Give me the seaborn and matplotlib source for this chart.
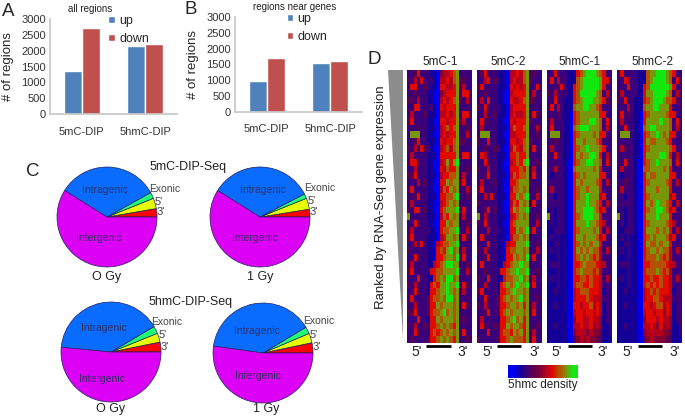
import matplotlib
matplotlib.use('Agg')
import matplotlib.pyplot as plt
import seaborn as sns
import pandas as pd
import numpy as np
from matplotlib.colors import LinearSegmentedColormap
from matplotlib.lines import Line2D
from matplotlib.patches import Polygon

W, H = 685, 417

groups = ['5mC-DIP', '5hmC-DIP']
directions = ['up', 'down']
all_regions_up = [1350, 2150]
all_regions_down = [2730, 2220]
near_genes_up = [990, 1550]
near_genes_down = [1720, 1600]

pie_labels = ["3'", "5'", 'Exonic', 'Intragenic', 'Intergenic']
pie_colors = ['#ff0000', '#e6ff00', '#1eff78', '#0a6cff', '#dc00f5']
pie_5mc_0gy = [2.7, 3.4, 2.0, 33.0, 58.9]
pie_5mc_1gy = [2.5, 3.6, 1.5, 33.5, 58.9]
pie_5hmc_0gy = [3.2, 2.9, 2.4, 40.0, 51.5]
pie_5hmc_1gy = [3.3, 3.1, 2.2, 39.2, 52.2]

# digits 0-9 read by eye: 0 blue, 2 purple, 4 maroon, 6 red, 8 olive, 9 green
mc1 = [
    '22362221104556782222', '32526222105565783322', '26622321106655683522', '22322211004566682662',
    '33252211005656783252', '22662222106566682222', '25222311105565682662', '36222211006656683522',
    '22232211105676782232', '28882211005656682252', '22362211106566783322', '32526321005675782222',
    '25222211106666682662', '26632211005686892222', '22522211006576682232', '33622211105667782522',
    '22252311006687883622', '26222211005768782252', '22362211106677892232', '25222211005678782222',
    '32662311006788892622', '82222211105768782522', '22632211006687882232', '25222221106778892252',
    '36222211105688782632', '22526211056778892222', '32222211067689782522', '22632211066788792622',
    '25222211567899882232', '36222216677888892252', '22262211678799782222', '32522216768898892632',
    '22632216678898782522', '26222236778799782222', '22522236687888782632', '33622236778978782222',
    '22262216687888782322', '32522326678787682222', '22632226767878782622', '23222236678787682232',
]
mc2 = [
    '23622211105565782322', '22562321105655783222', '36222211106565682262', '22322211005666682522',
    '25262211006556783322', '32622221105666682222', '22522311105655682632', '26322211006566683222',
    '25222211105766782252', '28882211005566682232', '32262211106656783222', '22322321005765782622',
    '26522211106676682222', '22632211005676892232', '32252211006667682522', '22362211105767782622',
    '25222311006678883222', '36222211005778782232', '22526211106687892252', '32222211005768782622',
    '22362311006878892222', '82522211105678782232', '32622211006788882252', '22252221106687892622',
    '26322211105778782222', '22262211056688892232', '32522211067788782252', '22362211066878792622',
    '26222211567889882222', '22322216678898892232', '32262211677889782522', '22522216787898892622',
    '36222216678988782222', '22622236787889782232', '32522236678878682522', '22362236787888782622',
    '25222216678978682222', '26322326687887682232', '22262226776878682522', '32222236678777682622',
]
hmc1 = [
    '22622211167899987622', '26252211178999998662', '22236211678999998622', '32522211679999987252',
    '22622111678999887632', '26252111788998876222', '22232110678888886622', '25222110678889987262',
    '26222110789998887252', '28882110678888786622', '22322110688788876222', '25222110678898887622',
    '22622110687889986252', '22222100678899887262', '22522100788888786222', '21222100678788886622',
    '22222100687888876252', '25222100678878886222', '22122100678898885622', '22222100688898876252',
    '12122100688999875622', '82122100678999886222', '12122100688898876522', '11222100678888786252',
    '12121100688788875622', '11221100678787886222', '12121100687878775252', '11121100678787675222',
    '12221100667877765522', '11121100678777675222', '12121100667767665252', '11121100677667665222',
    '11211100567776665122', '11111100566676555222', '11211100665667565122', '11111100566566565122',
    '11111100466556554122', '11211100556556454112', '11111100455545443112', '11111100345454433111',
]
hmc2 = [
    '26222211178899987622', '22652211178999987262', '22262211679999998622', '25222211688999987252',
    '32622111678999877632', '22252111788998886222', '26232110678888876622', '25222110688889887262',
    '22622110789988887252', '28882110678898786622', '22222110687788876222', '25322110678888887622',
    '22222110688889986252', '22622100678898887262', '25222100778888786222', '21222100687788886622',
    '22322100678888876252', '25222100688878886222', '22122100678888885622', '22222100687898876252',
    '12122100678899875622', '82122100688898886222', '12122100678888876522', '11222100688878786252',
    '12121100678788875622', '11221100687787886222', '12121100678878775252', '11121100677787675222',
    '12221100667777765522', '11121100677787675222', '12121100667667665252', '11121100676767665222',
    '11211100567676665122', '11111100566776555222', '11211100665677565122', '11111100566566465122',
    '11111100466656554122', '11211100556546454112', '11111100455555443112', '11111100345444433111',
]
heat_names = ['5mC-1', '5mC-2', '5hmC-1', '5hmC-2']
heat_rows = [mc1, mc2, hmc1, hmc2]
heat_left = [407, 477, 547, 617]
name_x = [440, 508, 580, 652]
five_x = [417, 488, 557, 628]
three_x = [463, 535, 603, 675]
bar_spans = [(426, 451), (497, 521), (568, 592), (638, 662)]
scale_steps = [0, 0, 0, 0.3, 0.6, 1, 1.3, 1.6, 2, 2.3, 2.6, 3, 3.3, 3.6, 4, 4.3, 4.6, 5, 5.3, 5.6, 6, 6.3,
               6.6, 7, 7.3, 7.6, 8, 8.3, 8.6, 9, 9, 9]

sns.set_theme(style='white')
plt.rcParams['font.family'] = ['Liberation Sans', 'DejaVu Sans']

heat_cmap = LinearSegmentedColormap.from_list(
    'density', ['#0000f0', '#140096', '#3c0078', '#5a0050', '#820032', '#b4001e',
                '#e10a00', '#b45000', '#78960a', '#10e810'])


def px_axes(fig, left, top, right, bottom):
    return fig.add_axes([left / W, 1 - bottom / H, (right - left) / W, (bottom - top) / H])


def fig_text(fig, x, y, s, size=9, **kw):
    kw.setdefault('ha', 'center')
    kw.setdefault('va', 'center')
    fig.text(x / W, 1 - y / H, s, fontsize=size, **kw)


def bar_panel(fig, box, up, down, legend_at):
    ax = px_axes(fig, *box)
    df = pd.DataFrame({
        'group': groups * 2,
        'direction': ['up'] * 2 + ['down'] * 2,
        'n': up + down,
    })
    sns.barplot(data=df, x='group', y='n', hue='direction', hue_order=directions,
                palette=['#4f81bd', '#c0504d'], width=0.57, gap=0, saturation=1, ax=ax)
    ax.set_ylim(0, 3000)
    ax.set_yticks(range(0, 3001, 500))
    ax.set_xlabel('')
    ax.set_ylabel('# of regions', fontsize=9.5)
    ax.yaxis.set_label_coords(-0.285, 0.5)
    ax.tick_params(axis='y', labelsize=8, length=0, pad=3, colors='#333333')
    ax.tick_params(axis='x', labelsize=8, length=0, pad=9, colors='#333333')
    for name in ['top', 'right']:
        ax.spines[name].set_visible(False)
    ax.spines['left'].set_color('#c8c8c8')
    ax.spines['bottom'].set_color('#c8c8c8')
    ax.legend(loc='upper left', bbox_to_anchor=legend_at, frameon=False, fontsize=9,
              handlelength=0.5, handleheight=0.5, handletextpad=0.35, labelspacing=0.45,
              borderpad=0, borderaxespad=0)
    return ax


def pie_panel(fig, cx, cy, r, values, text_at, cap, cap_x, cap_y):
    ax = px_axes(fig, cx - r, cy - r, cx + r, cy + r)
    ax.pie(values, colors=pie_colors, startangle=0, counterclock=True, radius=1,
           wedgeprops={'edgecolor': '#202060', 'linewidth': 0.5})
    ax.set_xlim(-1, 1)
    ax.set_ylim(-1, 1)
    for lab, (x, y) in zip(pie_labels, text_at):
        color = '#303060' if lab.startswith('Int') else '#444444'
        size = 8 if len(lab) == 2 else 7.5
        fig_text(fig, cx + x, cy + y, lab, size=size, color=color)
    fig_text(fig, cap_x, cap_y, cap, size=9, color='#222222')


fig = plt.figure(figsize=(W / 100, H / 100), dpi=100)

bar_panel(fig, (50, 19, 177, 114), all_regions_up, all_regions_down, (0.46, 1.04))
bar_panel(fig, (235, 17, 362, 112), near_genes_up, near_genes_down, (0.41, 1.04))
fig_text(fig, 90, 9, 'all regions', size=7, color='#222222')
fig_text(fig, 295, 7, 'regions near genes', size=7, color='#222222')
fig_text(fig, 8, 11, 'A', size=13.5)
fig_text(fig, 191, 9, 'B', size=13.5)
fig_text(fig, 33, 172, 'C', size=13.5)
fig_text(fig, 374, 59, 'D', size=13.5)

pie_panel(fig, 107, 217, 50, pie_5mc_0gy, [(54, -5), (52, -15), (58, -28), (-2, -27), (-8, 21)], 'O Gy', 107, 277)
pie_panel(fig, 260, 217, 50, pie_5mc_1gy, [(54, -5), (52, -16), (60, -29), (3, -27), (-5, 21)], '1 Gy', 260, 277)
pie_panel(fig, 111, 352, 50, pie_5hmc_0gy, [(54, -5), (52, -17), (56, -30), (-7, -24), (-9, 27)], 'O Gy', 111, 409)
pie_panel(fig, 263, 353, 50, pie_5hmc_1gy, [(54, -6), (51, -18), (56, -32), (-6, -22), (-5, 23)], '1 Gy', 266, 409)
fig_text(fig, 188, 167, '5mC-DIP-Seq', size=9, color='#222222')
fig_text(fig, 191, 302, '5hmC-DIP-Seq', size=9, color='#222222')

# expression wedge
fig.add_artist(Polygon([(388 / W, 1 - 70 / H), (403 / W, 1 - 70 / H), (403 / W, 1 - 339 / H)],
                       closed=True, transform=fig.transFigure, facecolor='#8c8c8c', edgecolor='none'))
fig_text(fig, 381, 197, 'Ranked by RNA-Seq gene expression', size=9.5, rotation=90, color='#222222')

for i, rows in enumerate(heat_rows):
    left = heat_left[i]
    ax = px_axes(fig, left, 70, left + 65, 343)
    grid = np.array([[int(c) for c in row] for row in rows])
    sns.heatmap(grid, vmin=0, vmax=9, cmap=heat_cmap, cbar=False, xticklabels=False,
                yticklabels=False, ax=ax, rasterized=True)
    fig_text(fig, name_x[i], 62, heat_names[i], size=8.5, color='#222222')
    fig_text(fig, five_x[i], 352, "5'", size=10, color='#222222')
    fig_text(fig, three_x[i], 352, "3'", size=10, color='#222222')
    span = bar_spans[i]
    fig.add_artist(Line2D([span[0] / W, span[1] / W], [1 - 346 / H, 1 - 346 / H],
                          color='black', linewidth=2, solid_capstyle='butt'))

cax = px_axes(fig, 508, 365, 578, 378)
sns.heatmap(np.array([scale_steps]), vmin=0, vmax=9, cmap=heat_cmap, cbar=False,
            xticklabels=False, yticklabels=False, ax=cax, rasterized=True)
fig_text(fig, 543, 385, '5hmc density', size=8.5, color='#222222')

fig.savefig('out.png', dpi=100)
